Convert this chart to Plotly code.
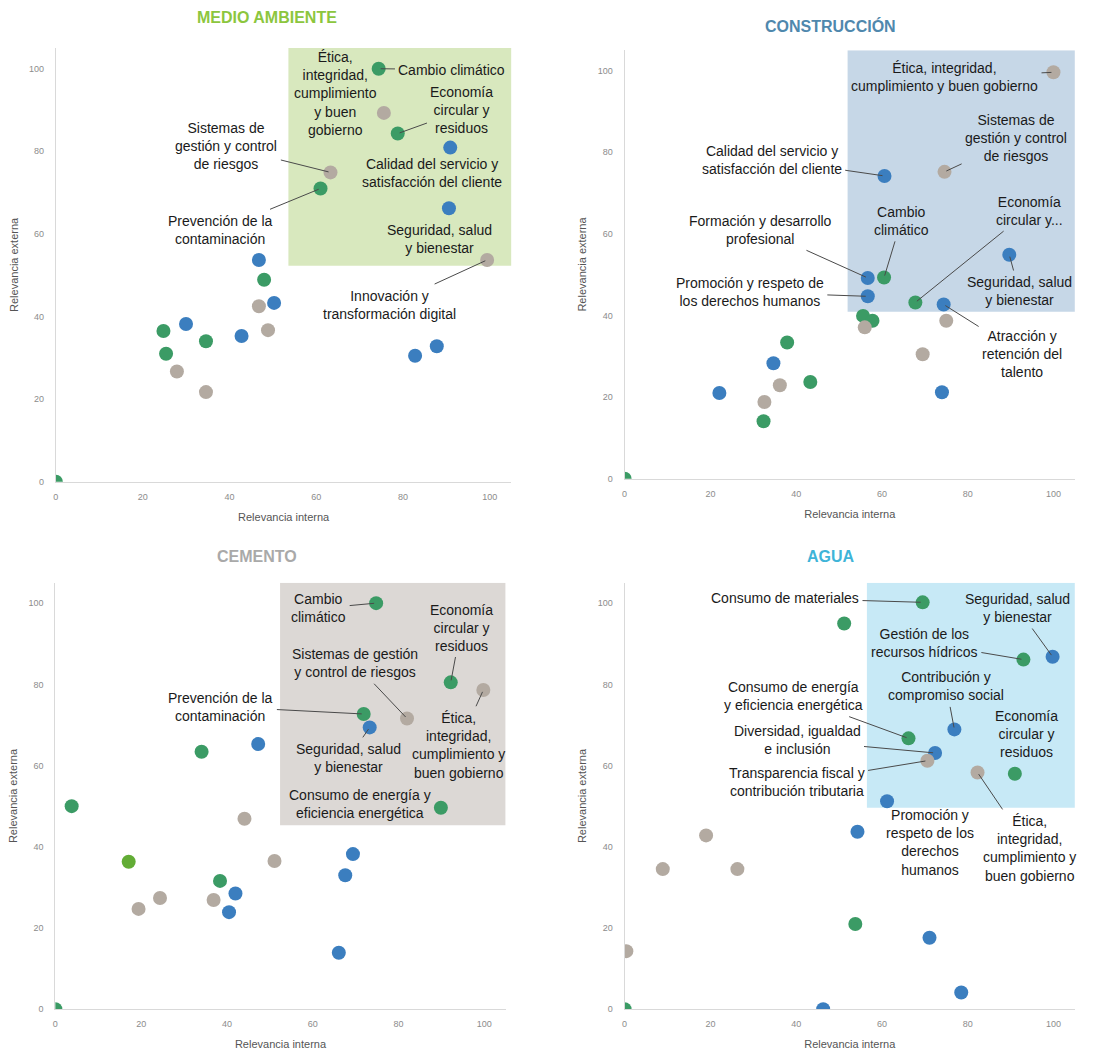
import plotly.graph_objects as go

W, H = 1108, 1059

GREEN = "#3b9b65"
LIME = "#62ac35"
BLUE = "#3b7ebf"
GRAY = "#b3aaa1"

# ---------------- MEDIO AMBIENTE ----------------
ma_x = [74.4, 75.6, 78.8, 90.9, 63.3, 61.0, 90.6, 99.4, 46.8, 48.0, 46.8, 50.3, 30.0,
        24.8, 34.6, 42.8, 48.9, 25.4, 27.9, 34.6, 82.8, 87.8, 0.0]
ma_y = [100.0, 89.3, 84.3, 80.9, 74.9, 71.0, 66.2, 53.7, 53.7, 48.9, 42.5, 43.3, 38.2,
        36.5, 34.0, 35.3, 36.7, 31.0, 26.7, 21.7, 30.5, 32.8, 0.0]
ma_c = ["g", "s", "g", "b", "s", "g", "b", "s", "b", "g", "s", "b", "b",
        "g", "g", "b", "s", "g", "s", "s", "b", "b", "g"]
# (text, point index or None, text centre x, text centre y)
ma_labels = [
    ("Ética,<br>integridad,<br>cumplimiento<br>y buen<br>gobierno", None, 64.4, 94.0),
    ("Cambio climático", 0, 91.3, 99.8),
    ("Economía<br>circular y<br>residuos", 2, 93.6, 89.9),
    ("Calidad del servicio y<br>satisfacción del cliente", None, 86.7, 74.7),
    ("Seguridad, salud<br>y bienestar", None, 88.5, 58.8),
    ("Sistemas de<br>gestión y control<br>de riesgos", 4, 39.3, 81.2),
    ("Prevención de la<br>contaminación", 5, 37.9, 61.0),
    ("Innovación y<br>transformación digital", 7, 77.0, 42.9),
]

# ---------------- CONSTRUCCIÓN ----------------
co_x = [100.0, 60.6, 74.6, 89.7, 56.7, 60.5, 56.7, 67.8, 74.4, 55.6, 57.8, 56.0, 75.0,
        69.5, 37.9, 34.7, 36.2, 43.3, 22.1, 32.6, 32.4, 74.0, 0.0]
co_y = [99.6, 74.2, 75.2, 54.9, 49.2, 49.3, 44.7, 43.2, 42.7, 39.9, 38.7, 37.1, 38.7,
        30.5, 33.4, 28.3, 22.9, 23.7, 21.0, 18.8, 14.1, 21.2, 0.0]
co_c = ["s", "b", "s", "b", "b", "g", "b", "g", "b", "g", "g", "s", "s",
        "s", "g", "b", "s", "g", "b", "s", "g", "b", "g"]
co_labels = [
    ("Ética, integridad,<br>cumplimiento y buen gobierno", 0, 74.6, 98.4),
    ("Sistemas de<br>gestión y control<br>de riesgos", 2, 91.3, 83.4),
    ("Calidad del servicio y<br>satisfacción del cliente", 1, 34.3, 78.2),
    ("Formación y desarrollo<br>profesional", 4, 31.8, 61.0),
    ("Cambio<br>climático", 5, 64.5, 63.2),
    ("Economía<br>circular y...", 7, 94.3, 65.7),
    ("Seguridad, salud<br>y bienestar", 3, 92.0, 46.0),
    ("Promoción y respeto de<br>los derechos humanos", 6, 29.2, 45.7),
    ("Atracción y<br>retención del<br>talento", 8, 92.7, 30.6),
]

# ---------------- CEMENTO ----------------
ce_x = [74.8, 92.2, 99.8, 71.9, 82.0, 73.3, 47.3, 34.1, 3.8, 89.9, 44.1, 69.4, 17.1,
        51.1, 67.6, 38.4, 24.4, 42.0, 36.9, 19.4, 40.5, 66.1, 0.0]
ce_y = [100.0, 80.5, 78.6, 72.7, 71.6, 69.4, 65.3, 63.4, 50.0, 49.6, 46.9, 38.2, 36.3,
        36.5, 33.0, 31.6, 27.4, 28.5, 26.9, 24.7, 23.9, 13.9, 0.0]
ce_c = ["g", "g", "s", "g", "s", "b", "b", "g", "g", "g", "s", "b", "l",
        "s", "b", "g", "s", "b", "s", "s", "b", "b", "g"]
ce_labels = [
    ("Cambio<br>climático", 0, 61.4, 98.7),
    ("Economía<br>circular y<br>residuos", 1, 94.6, 94.0),
    ("Sistemas de gestión<br>y control de riesgos", 4, 69.8, 85.2),
    ("Prevención de la<br>contaminación", 3, 38.6, 74.5),
    ("Seguridad, salud<br>y bienestar", 5, 68.4, 61.9),
    ("Ética,<br>integridad,<br>cumplimiento y<br>buen gobierno", 2, 94.0, 65.0),
    ("Consumo de energía y<br>eficiencia energética", None, 71.1, 50.5),
]

# ---------------- AGUA ----------------
ag_x = [69.5, 51.2, 93.0, 99.8, 76.9, 66.2, 72.4, 70.6, 82.3, 91.0, 61.2, 54.3, 19.0,
        8.9, 26.3, 53.8, 71.1, 0.4, 78.5, 46.3, 0.0]
ag_y = [100.2, 95.0, 86.1, 86.8, 68.9, 66.7, 63.1, 61.2, 58.3, 58.0, 51.2, 43.7, 42.8,
        34.5, 34.5, 21.0, 17.6, 14.3, 4.1, 0.0, 0.0]
ag_c = ["g", "g", "g", "b", "b", "g", "b", "s", "s", "g", "b", "b", "s",
        "s", "s", "g", "b", "s", "b", "b", "g"]
ag_labels = [
    ("Consumo de materiales", 0, 37.4, 101.2),
    ("Seguridad, salud<br>y bienestar", 3, 91.6, 98.8),
    ("Gestión de los<br>recursos hídricos", 2, 69.9, 90.2),
    ("Contribución y<br>compromiso social", 4, 75.0, 79.5),
    ("Consumo de energía<br>y eficiencia energética", 5, 39.3, 77.1),
    ("Diversidad, igualdad<br>e inclusión", 6, 40.2, 66.2),
    ("Transparencia fiscal y<br>contribución tributaria", 7, 40.1, 55.9),
    ("Economía<br>circular y<br>residuos", None, 93.6, 67.8),
    ("Promoción y<br>respeto de los<br>derechos<br>humanos", None, 71.1, 41.0),
    ("Ética,<br>integridad,<br>cumplimiento y<br>buen gobierno", 8, 94.3, 39.6),
]

COLORS = {"g": GREEN, "b": BLUE, "s": GRAY, "l": LIME}

# panel definitions: title, title colour, zone fill, zone extent, pixel box of plot area
panels = [
    dict(title="MEDIO AMBIENTE", tcolor="#8cc63e", fill="#d8e8be",
         zone=(53.6, 105, 52.3, 105), px=(53, 509.8, 48.3, 484),
         x=ma_x, y=ma_y, c=ma_c, labels=ma_labels, title_xy=(265, 18)),
    dict(title="CONSTRUCCIÓN", tcolor="#4f88ad", fill="#c6d7e7",
         zone=(52, 105, 40.9, 105), px=(623.3, 1074.8, 50.5, 481),
         x=co_x, y=co_y, c=co_c, labels=co_labels, title_xy=(830, 26)),
    dict(title="CEMENTO", tcolor="#a9a9a9", fill="#dcd8d5",
         zone=(52.4, 105, 45.3, 105), px=(52.5, 504, 585.6, 1014),
         x=ce_x, y=ce_y, c=ce_c, labels=ce_labels, title_xy=(255, 559)),
    dict(title="AGUA", tcolor="#3fb4d8", fill="#c7e9f6",
         zone=(56.5, 105, 49.6, 105), px=(623.3, 1074.8, 585.6, 1014),
         x=ag_x, y=ag_y, c=ag_c, labels=ag_labels, title_xy=(830, 559)),
]

fig = go.Figure()
shapes = []
annotations = []
ticks = [0, 20, 40, 60, 80, 100]

for i, p in enumerate(panels, start=1):
    xa = "x" if i == 1 else f"x{i}"
    ya = "y" if i == 1 else f"y{i}"
    x0, x1, y0, y1 = p["px"]
    common = dict(range=[0, 105], showgrid=False, zeroline=False, showline=True,
                  linecolor="#d9d9d9", linewidth=1, ticks="", tickvals=ticks,
                  tickfont=dict(family="Liberation Sans, Arial", size=9, color="#8c8c8c"),
                  fixedrange=True)
    fig.layout[f"xaxis{'' if i == 1 else i}"] = dict(
        common, domain=[x0 / W, x1 / W], anchor=ya, ticklabelstandoff=6,
        title=dict(text="Relevancia interna", standoff=12,
                   font=dict(family="Liberation Sans, Arial", size=11, color="#555")))
    fig.layout[f"yaxis{'' if i == 1 else i}"] = dict(
        common, domain=[1 - y1 / H, 1 - y0 / H], anchor=xa, ticklabelstandoff=9,
        title=dict(text="Relevancia externa", standoff=8,
                   font=dict(family="Liberation Sans, Arial", size=11, color="#555")))

    zx0, zx1, zy0, zy1 = p["zone"]
    shapes.append(dict(type="rect", xref=xa, yref=ya, x0=zx0, x1=zx1, y0=zy0, y1=zy1,
                       fillcolor=p["fill"], line=dict(width=0), layer="below"))

    fig.add_trace(go.Scatter(
        x=p["x"], y=p["y"], mode="markers", xaxis=xa, yaxis=ya, showlegend=False,
        marker=dict(size=14, color=[COLORS[c] for c in p["c"]], line=dict(width=0)),
        hoverinfo="x+y"))

    for text, idx, tx, ty in p["labels"]:
        base = dict(text=text, font=dict(family="Liberation Sans, Arial", size=14, color="#1a1a1a"),
                    align="center", xref=xa, yref=ya)
        if idx is None:
            annotations.append(dict(base, x=tx, y=ty, showarrow=False))
        else:
            annotations.append(dict(base, x=p["x"][idx], y=p["y"][idx], ax=tx, ay=ty,
                                    axref=xa, ayref=ya, showarrow=True, arrowhead=0,
                                    arrowwidth=1, arrowcolor="#4a4a4a", standoff=2,
                                    borderpad=3))

    annotations.append(dict(text=f"<b>{p['title']}</b>", xref="paper", yref="paper",
                            x=p["title_xy"][0] / W, y=1 - p["title_xy"][1] / H,
                            showarrow=False, xanchor="center", yanchor="middle",
                            font=dict(family="Liberation Sans, Arial", size=16, color=p["tcolor"])))

fig.update_layout(width=W, height=H, margin=dict(l=0, r=0, t=0, b=0),
                  paper_bgcolor="white", plot_bgcolor="white",
                  shapes=shapes, annotations=annotations)
fig.update_traces(cliponaxis=True)

fig.write_html("out.html")
